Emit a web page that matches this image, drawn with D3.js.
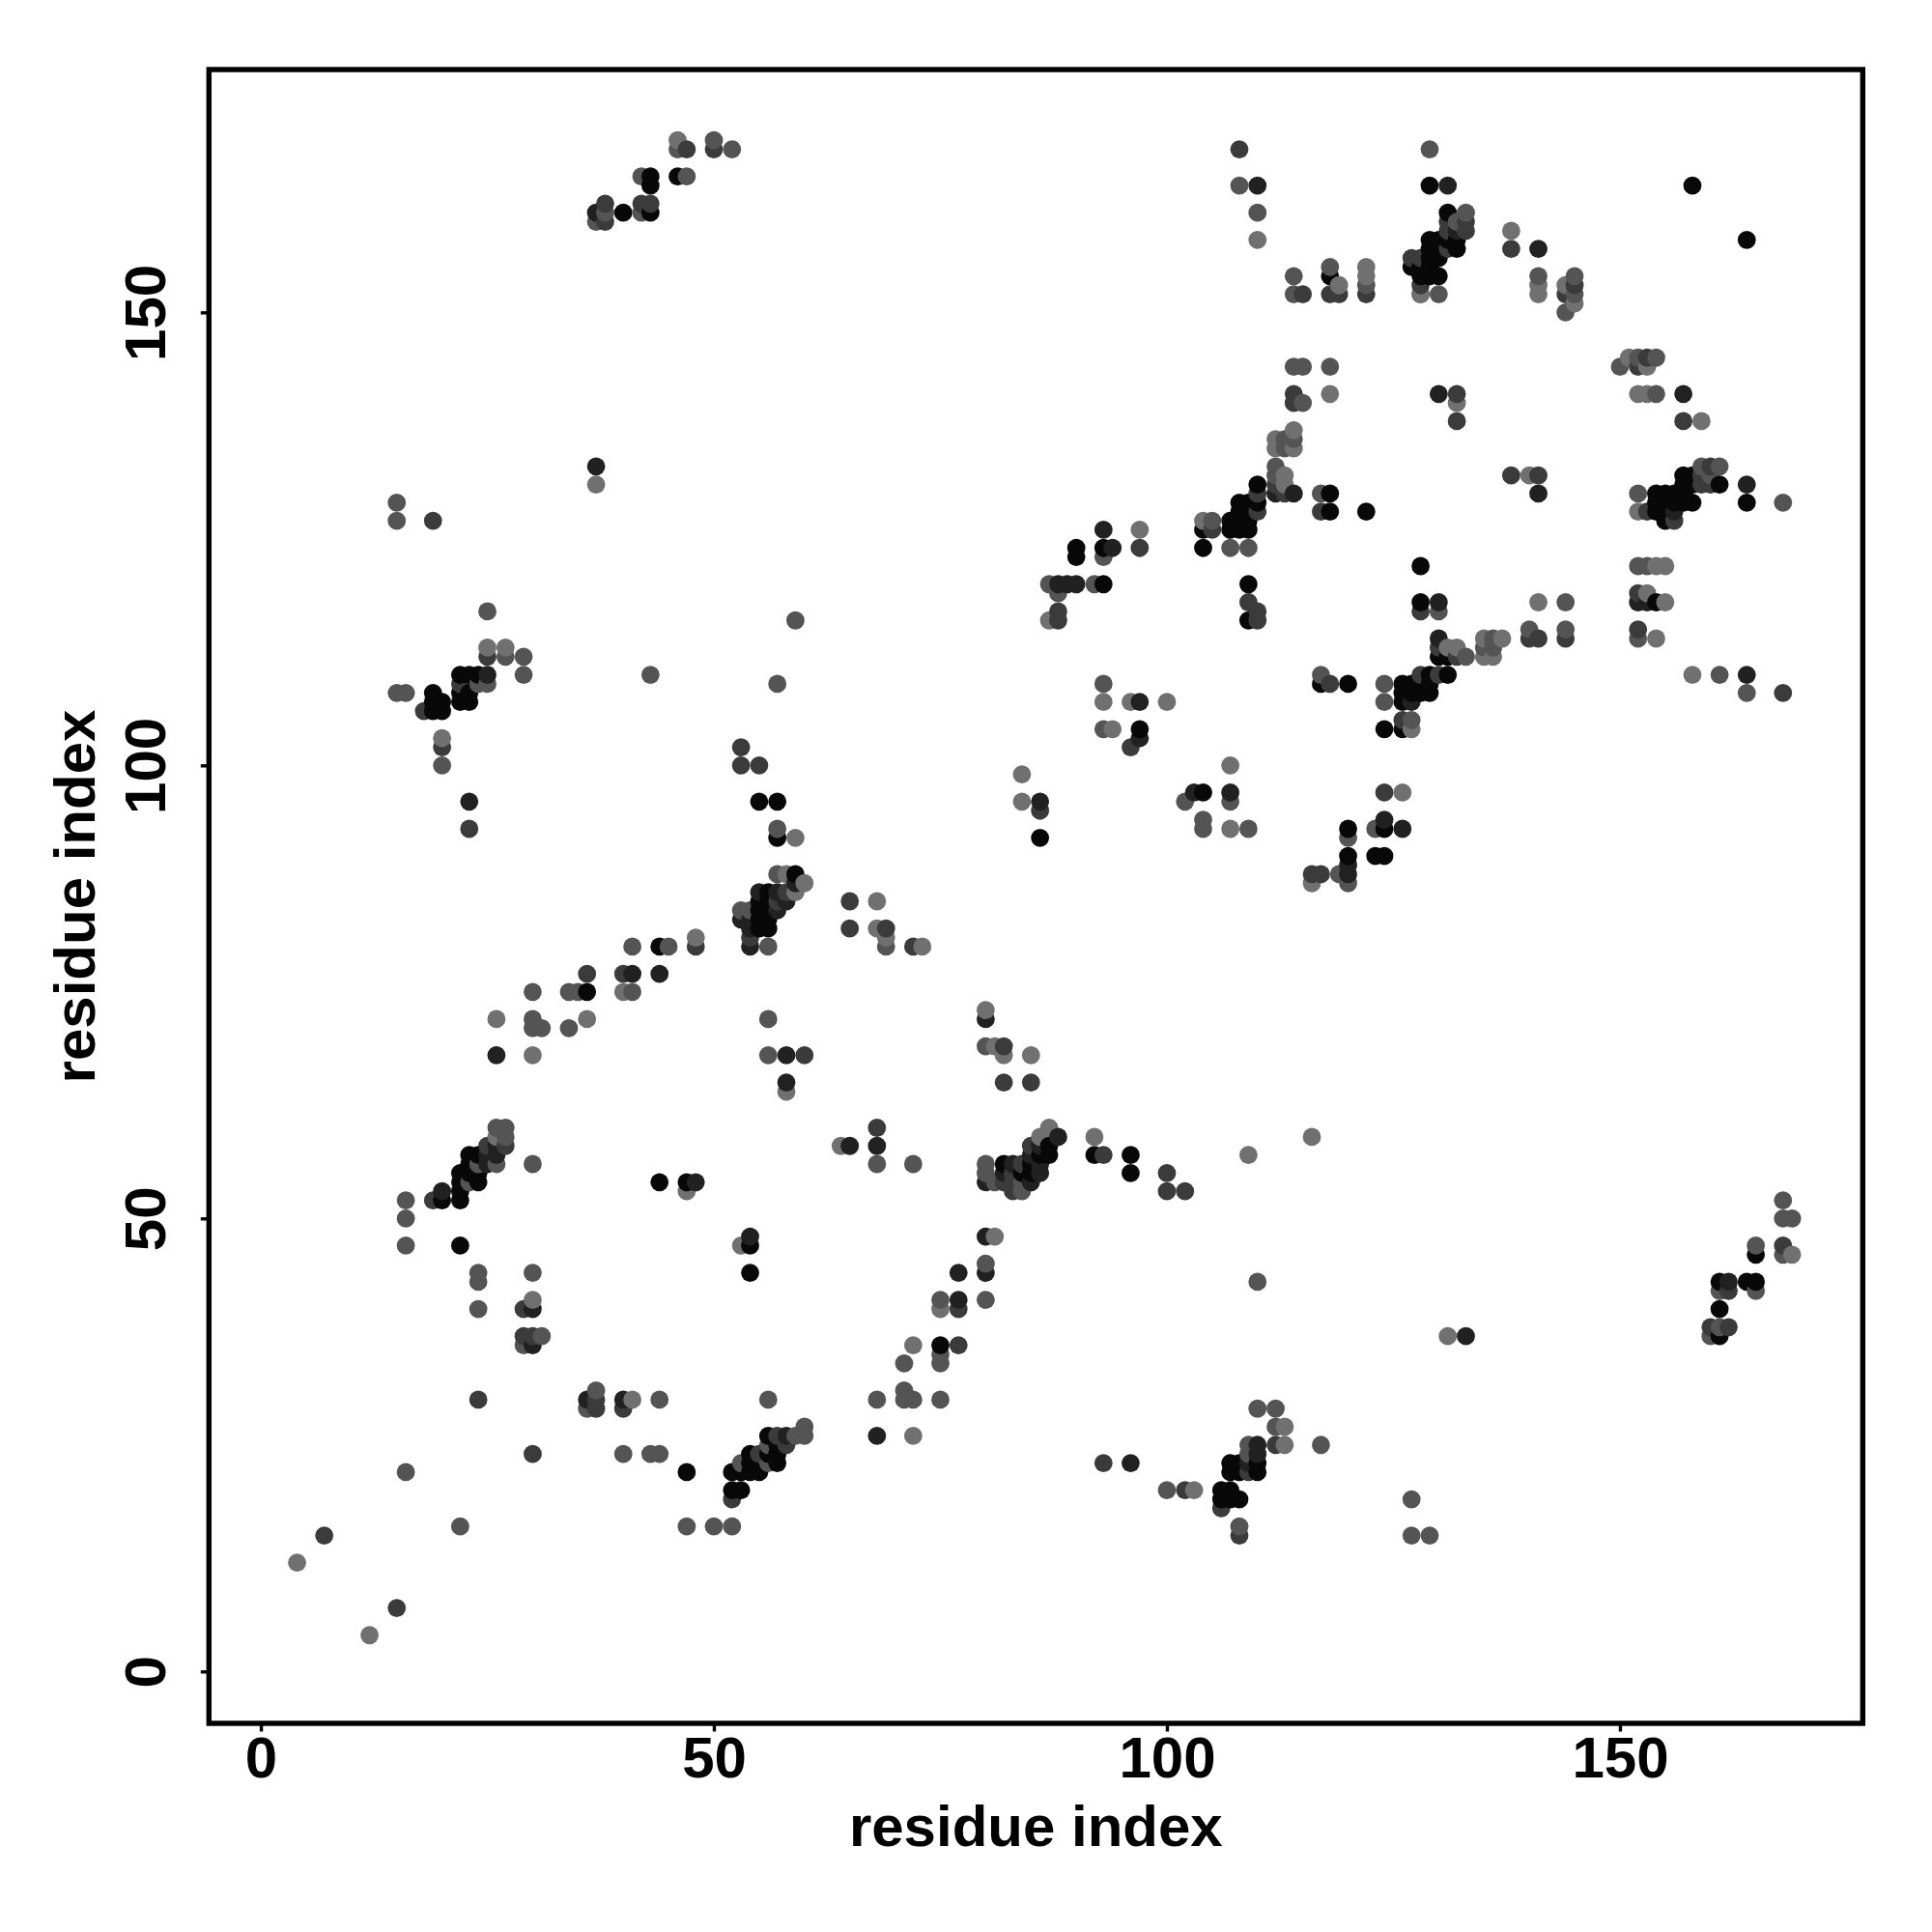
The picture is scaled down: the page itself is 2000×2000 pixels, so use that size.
<!DOCTYPE html>
<html>
<head>
<meta charset="utf-8">
<script src="https://cdn.jsdelivr.net/npm/d3@7/dist/d3.min.js"></script>
<style>
html,body{margin:0;padding:0;background:#fff}
svg{display:block}
text{font-family:"Liberation Sans",Arial,sans-serif;font-weight:bold;fill:#000}
</style>
</head>
<body>
<svg id="chart" width="2000" height="2000"></svg>
<script>
// Contacts [residue x, residue y], grouped by how dark the dot is drawn (contact strength)
const strengthA = [[22,47],[47,22],[44,54],[47,54],[54,47],[54,44],[20,52],[22,52],[22,53],[22,54],[22,55],[23,55],[24,54],[24,55],[23,56],[23,57],[24,57],[75,36],[82,56],[84,55],[85,55],[85,56],[86,57],[87,58],[87,57],[96,55],[107,23],[107,22],[108,23],[110,23],[110,22],[108,22],[106,20],[107,20],[106,19],[107,19],[108,19],[56,26],[57,25],[56,24],[57,24],[57,23],[55,22],[55,23],[54,24],[54,23],[54,22],[53,22],[52,22],[52,20],[53,20],[165,46],[161,43],[164,43],[165,43],[161,40],[161,37],[19,108],[19,107],[20,107],[19,106],[20,106],[22,110],[23,110],[24,110],[22,108],[23,108],[22,107],[23,107],[55,96],[44,80],[36,75],[55,82],[55,83],[55,85],[55,84],[56,86],[56,85],[56,84],[56,83],[56,82],[59,88],[97,104],[57,96],[57,92],[86,92],[104,97],[92,57],[96,57],[130,112],[131,112],[117,109],[120,109],[129,110],[131,110],[126,109],[127,109],[128,109],[129,109],[126,108],[127,108],[128,108],[129,108],[126,107],[124,104],[126,104],[120,93],[124,93],[120,90],[123,90],[124,90],[43,165],[43,164],[46,165],[40,161],[43,161],[110,131],[110,129],[108,129],[109,129],[108,128],[109,128],[107,127],[108,127],[109,127],[107,126],[108,126],[109,126],[104,126],[104,124],[90,124],[90,123],[93,124],[93,120],[109,120],[109,116],[129,164],[131,161],[131,158],[132,158],[129,158],[130,158],[132,157],[129,157],[130,157],[129,156],[130,156],[127,155],[128,155],[129,155],[128,154],[129,154],[130,154],[118,154],[157,132],[158,132],[161,131],[158,131],[157,131],[164,129],[154,130],[155,130],[154,129],[155,129],[156,129],[157,129],[158,129],[154,128],[155,128],[155,127],[156,130],[157,130],[118,130],[118,128],[122,128],[154,118],[128,118],[158,164],[164,158],[128,122]];
const strengthB = [[30,40],[30,36],[36,30],[40,30],[48,54],[54,48],[20,53],[25,56],[25,57],[26,57],[26,58],[86,58],[68,26],[77,41],[77,44],[80,44],[80,48],[80,54],[82,55],[85,54],[86,55],[83,56],[86,56],[85,57],[88,59],[96,23],[110,25],[110,24],[109,23],[58,26],[162,43],[133,37],[25,110],[23,96],[41,77],[44,77],[26,68],[53,83],[54,83],[54,82],[54,80],[55,86],[57,86],[57,84],[58,85],[59,87],[97,107],[97,103],[86,96],[103,97],[107,97],[58,68],[58,65],[80,72],[68,58],[65,58],[130,114],[164,110],[127,107],[124,94],[126,93],[120,89],[120,88],[37,133],[37,161],[112,130],[114,130],[93,126],[94,124],[88,120],[89,120],[90,120],[110,164],[131,164],[132,159],[141,157],[130,141],[157,141],[164,131],[156,128],[141,130],[152,118],[153,118],[130,118]];
const strengthC = [[29,40],[29,37],[30,37],[24,30],[37,30],[37,29],[40,29],[30,24],[7,15],[15,7],[19,52],[27,58],[25,58],[77,36],[77,40],[82,54],[83,54],[83,53],[83,55],[84,56],[85,58],[100,55],[100,53],[102,53],[112,25],[93,23],[102,20],[109,22],[106,18],[108,15],[57,26],[58,25],[55,24],[52,19],[168,47],[162,42],[160,38],[162,38],[25,112],[18,106],[22,109],[20,102],[23,93],[53,102],[53,100],[55,100],[48,80],[36,77],[40,77],[54,81],[57,85],[58,86],[88,116],[96,102],[86,95],[65,85],[65,82],[69,82],[72,80],[60,68],[82,69],[82,65],[85,65],[68,60],[93,57],[116,88],[117,88],[130,113],[132,112],[140,114],[141,114],[144,114],[152,115],[118,109],[168,108],[128,110],[130,110],[126,105],[124,97],[19,127],[47,168],[50,168],[38,162],[38,160],[42,162],[43,162],[108,168],[115,152],[114,141],[114,140],[112,131],[113,130],[110,130],[110,128],[105,126],[97,124],[88,117],[109,118],[110,117],[110,116],[131,160],[133,160],[131,159],[133,159],[131,157],[127,156],[128,156],[128,153],[138,157],[145,153],[144,152],[118,152],[119,152],[122,152],[153,145],[152,144],[132,141],[132,138],[157,138],[160,133],[159,132],[160,131],[159,131],[153,128],[156,127],[138,132],[141,132],[117,128],[152,119],[128,117]];
const strengthD = [[16,52],[16,50],[16,47],[24,44],[24,43],[24,40],[30,44],[31,37],[29,36],[37,31],[36,29],[44,30],[40,24],[43,24],[44,24],[16,22],[47,16],[50,16],[52,16],[22,16],[23,54],[24,56],[26,56],[27,59],[26,60],[27,60],[30,56],[56,30],[68,30],[71,30],[71,31],[72,30],[75,30],[71,34],[75,35],[75,34],[75,41],[80,41],[80,45],[81,54],[84,53],[84,54],[80,56],[80,55],[110,43],[110,29],[112,29],[112,27],[109,25],[100,20],[109,24],[108,16],[60,27],[60,26],[59,26],[56,25],[56,23],[53,23],[168,52],[168,50],[169,50],[168,46],[165,47],[161,42],[165,42],[161,38],[160,37],[117,25],[127,19],[127,15],[129,15],[27,112],[29,112],[29,110],[43,110],[15,108],[16,108],[25,109],[24,109],[20,100],[41,80],[45,80],[30,75],[34,75],[35,75],[41,75],[30,72],[30,71],[31,71],[34,71],[53,84],[54,84],[57,88],[56,80],[59,116],[57,109],[93,109],[93,104],[102,96],[107,96],[104,94],[104,93],[109,93],[69,80],[56,72],[56,68],[80,69],[68,56],[72,56],[133,112],[136,114],[135,113],[136,113],[140,115],[144,115],[152,114],[124,109],[124,107],[161,110],[164,108],[127,105],[120,92],[123,93],[120,87],[119,88],[15,129],[15,127],[25,117],[46,168],[50,169],[52,168],[42,165],[47,165],[38,161],[37,160],[42,161],[108,164],[110,161],[114,154],[114,152],[114,144],[115,144],[115,140],[113,136],[114,136],[113,135],[112,133],[112,132],[105,127],[107,124],[109,124],[93,123],[87,120],[92,120],[88,119],[129,168],[133,161],[132,160],[128,152],[130,152],[141,154],[145,154],[145,152],[144,150],[118,155],[122,153],[150,144],[152,145],[154,145],[118,144],[154,141],[159,133],[161,133],[160,132],[168,129],[152,130],[117,130],[144,118],[152,122],[153,122],[130,117],[117,110],[57,93]];
const strengthE = [[30,41],[41,30],[4,12],[12,4],[47,53],[53,47],[26,59],[72,26],[72,36],[75,40],[81,48],[113,27],[113,25],[103,20],[169,46],[131,37],[25,113],[27,113],[20,103],[48,81],[40,75],[26,72],[36,72],[30,68],[59,86],[58,88],[60,87],[87,116],[93,107],[96,107],[100,107],[94,104],[59,92],[84,99],[84,96],[107,100],[107,93],[68,85],[68,82],[69,81],[73,80],[58,64],[80,73],[81,69],[82,68],[85,68],[64,58],[92,59],[109,57],[116,59],[116,87],[87,60],[86,59],[131,113],[132,113],[135,114],[137,114],[135,112],[136,112],[154,114],[158,110],[127,104],[126,97],[37,131],[46,169],[110,158],[114,137],[112,136],[112,135],[114,135],[113,132],[113,131],[104,127],[97,126],[138,159],[141,153],[141,152],[144,153],[145,151],[122,155],[122,154],[119,153],[151,145],[153,144],[118,141],[132,140],[152,141],[153,141],[159,138],[152,128],[140,132],[141,118],[154,122],[155,122],[153,119],[155,118],[128,152]];

const strengthLevels = [0.97, 0.87, 0.77, 0.67, 0.56];
const strengthGroups = [strengthA, strengthB, strengthC, strengthD, strengthE];
const xTicks = [0, 50, 100, 150];
const yTicks = [0, 50, 100, 150];
const axisDomain = [-5.73, 176.8];
const axisTitle = "residue index";

const contacts = strengthGroups.flatMap((g, i) =>
  g.map(([x, y]) => ({x, y, p: strengthLevels[i]})));
contacts.sort((a, b) => d3.ascending(a.x, b.x) || d3.ascending(a.y, b.y));

const box = {left: 216.3, right: 1928.3, top: 72, bottom: 1784};
const x = d3.scaleLinear().domain(axisDomain).range([box.left, box.right]);
const y = d3.scaleLinear().domain(axisDomain).range([box.bottom, box.top]);
const gray = p => { const v = Math.round(255 * (1 - p)); return `rgb(${v},${v},${v})`; };

const svg = d3.select("#chart");

svg.append("g").selectAll("circle").data(contacts).join("circle")
  .attr("cx", d => x(d.x))
  .attr("cy", d => y(d.y))
  .attr("r", 9.4)
  .attr("fill", d => gray(d.p));

const xAxis = svg.append("g")
  .attr("transform", `translate(0,${box.bottom})`)
  .call(d3.axisBottom(x).tickValues(xTicks).tickSize(8.5).tickFormat(d3.format("d")));
const yAxis = svg.append("g")
  .attr("transform", `translate(${box.left},0)`)
  .call(d3.axisLeft(y).tickValues(yTicks).tickSize(8.5).tickFormat(d3.format("d")));

[xAxis, yAxis].forEach(axis => {
  axis.attr("font-family", null);
  axis.select(".domain").remove();
  axis.selectAll(".tick line").attr("stroke", "#000").attr("stroke-width", 3.4);
  axis.selectAll(".tick text").attr("font-size", 60);
});
xAxis.selectAll(".tick text")
  .attr("y", 0).attr("dy", 0)
  .attr("transform", `translate(0,${1839.5 - box.bottom})`)
  .attr("text-anchor", "middle");
yAxis.selectAll(".tick text")
  .attr("x", 0).attr("dy", 0).attr("y", 0)
  .attr("transform", `translate(${171 - box.left},0) rotate(-90)`)
  .attr("text-anchor", "middle");

svg.append("rect")
  .attr("x", box.left).attr("y", box.top)
  .attr("width", box.right - box.left).attr("height", box.bottom - box.top)
  .attr("fill", "none").attr("stroke", "#000").attr("stroke-width", 5.4);

svg.append("text")
  .attr("x", (box.left + box.right) / 2).attr("y", 1911)
  .attr("text-anchor", "middle").attr("font-size", 60)
  .text(axisTitle);
svg.append("text")
  .attr("transform", `translate(98,${(box.top + box.bottom) / 2}) rotate(-90)`)
  .attr("text-anchor", "middle").attr("font-size", 60)
  .text(axisTitle);
</script>
</body>
</html>
